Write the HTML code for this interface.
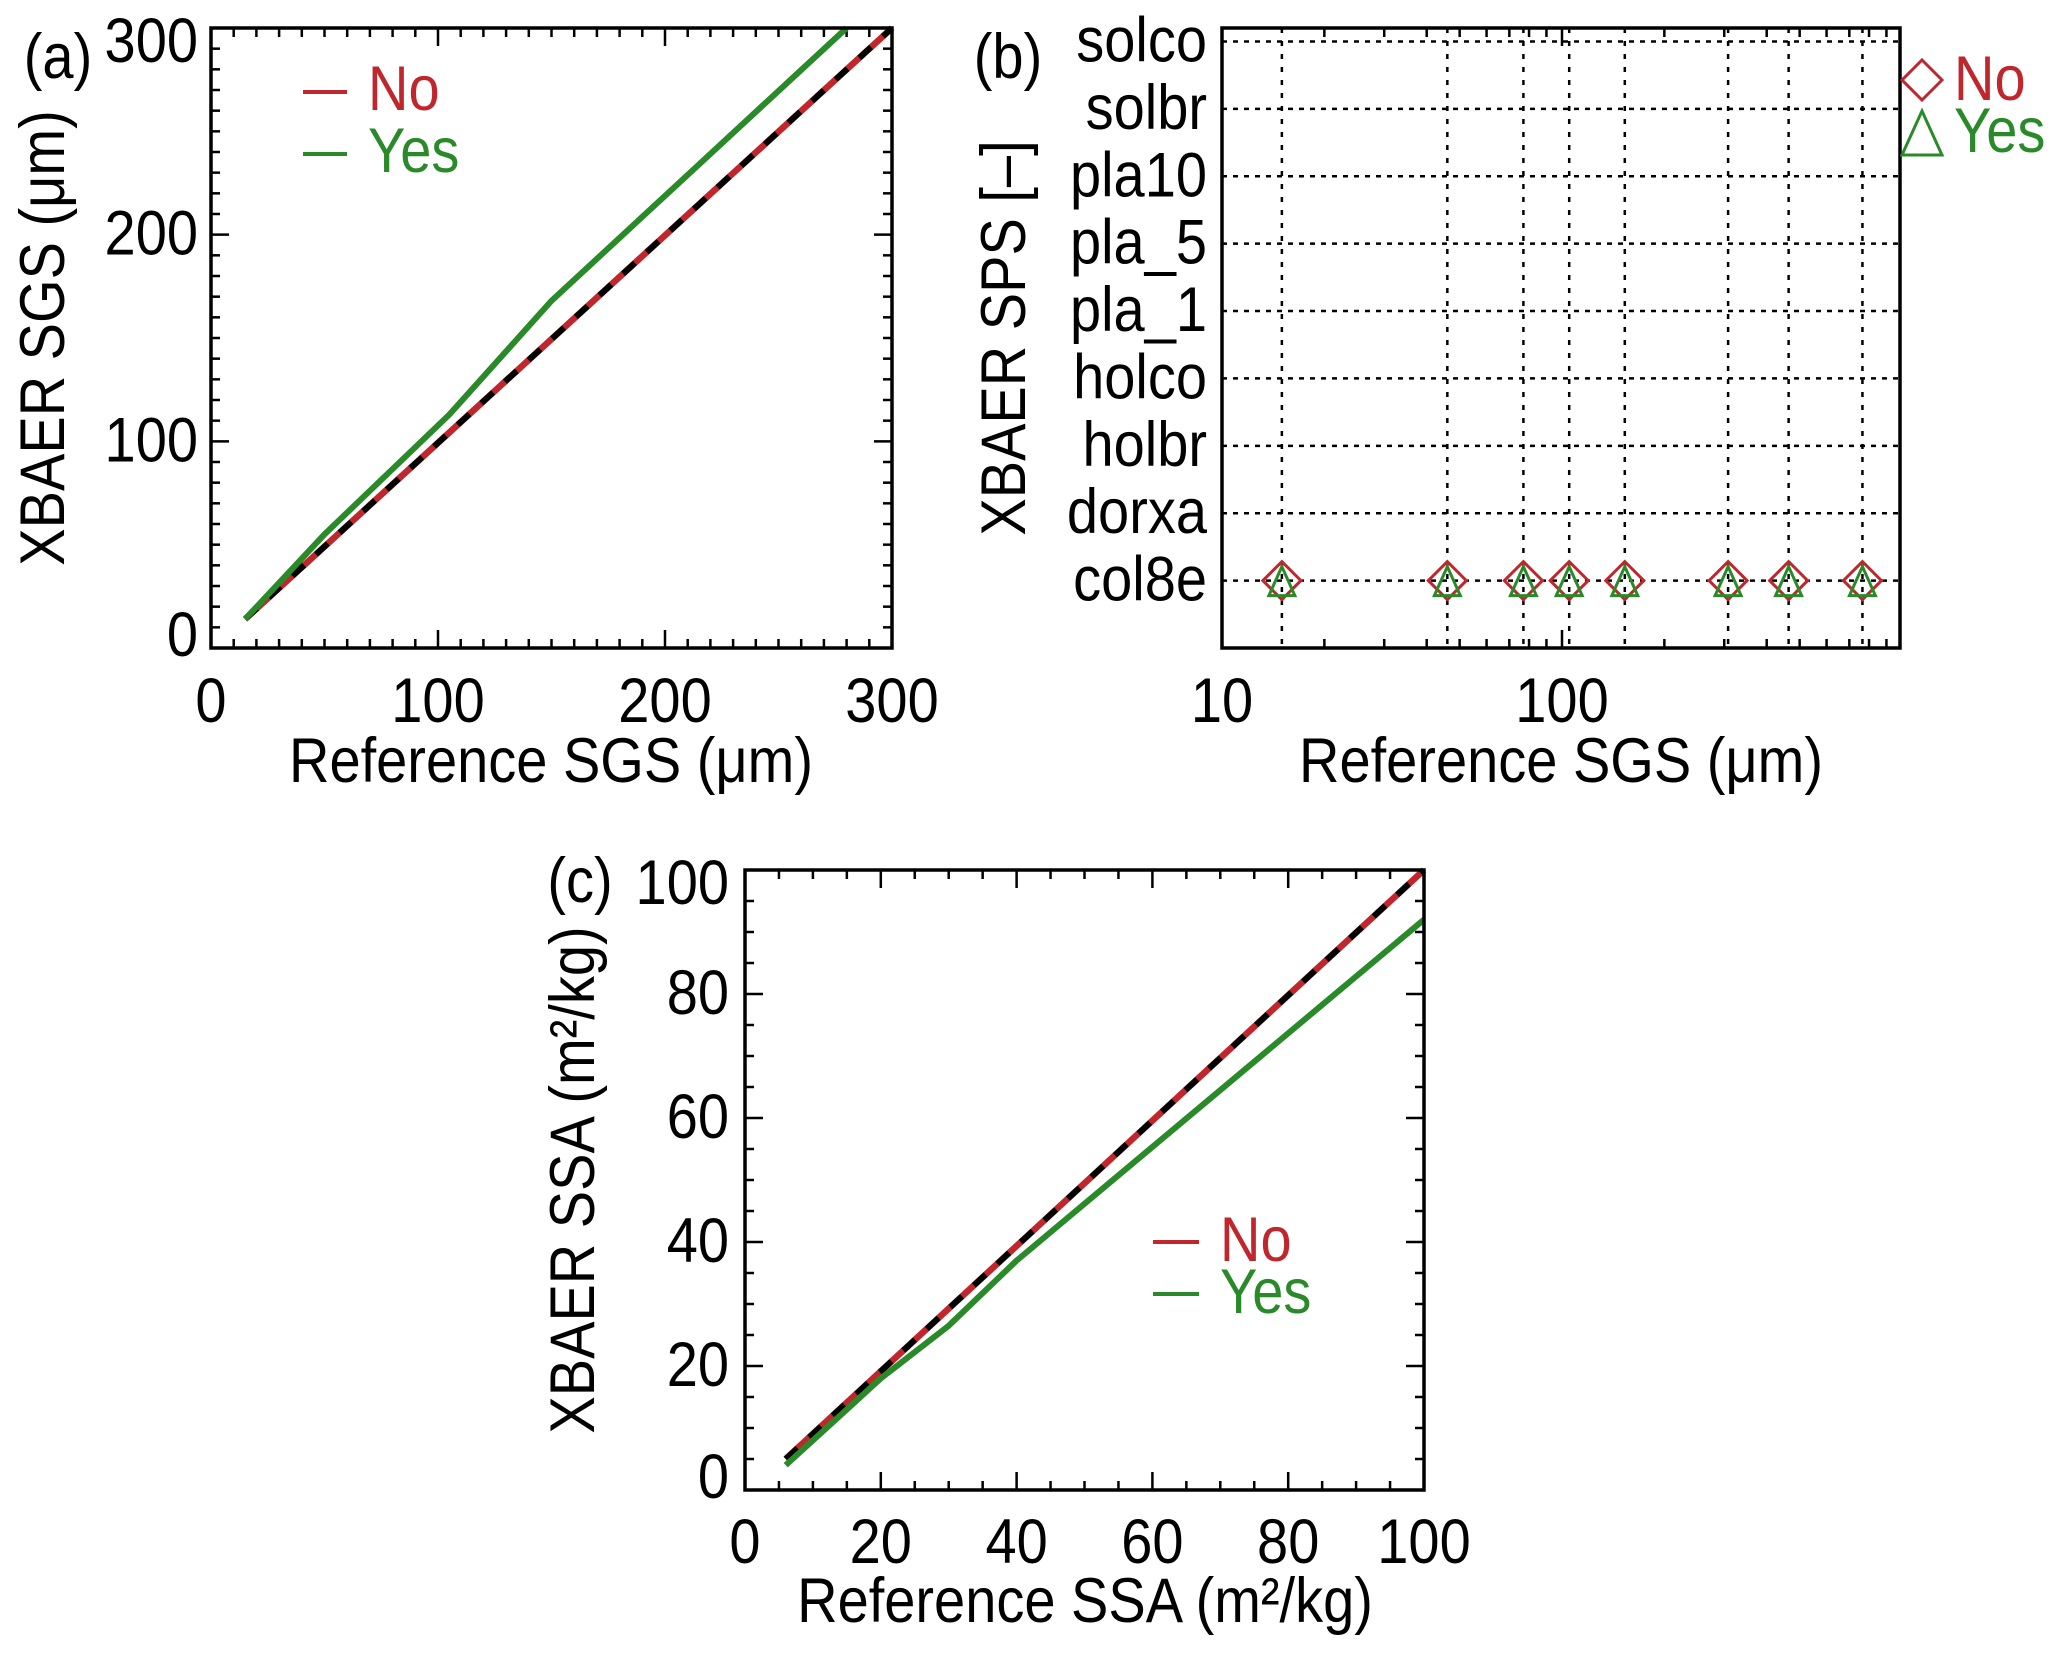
<!DOCTYPE html>
<html><head><meta charset="utf-8"><style>
html,body{margin:0;padding:0;background:#fff;}
svg{display:block;}
text{font-family:"Liberation Sans",Arial,sans-serif;}
</style></head><body>
<svg id="fig" width="2067" height="1653" viewBox="0 0 2067 1653" xmlns="http://www.w3.org/2000/svg"></svg>
<script>
// ---- Panel (a) data ----
const aNoX = [15, 300];
const aNoY = [14, 300];
const aYesX = [15, 50, 105, 150, 215, 280];
const aYesY = [14, 55, 113, 168, 234, 300];
const aXTicks = [0, 100, 200, 300];
const aYTicks = [0, 100, 200, 300];
// ---- Panel (b) data ----
const bCats = ["col8e","dorxa","holbr","holco","pla_1","pla_5","pla10","solbr","solco"];
const bX = [15, 46, 77, 105, 153, 308, 464, 765];
const bNoCat = [0,0,0,0,0,0,0,0];
const bYesCat = [0,0,0,0,0,0,0,0];
const bXTicks = [10, 100];
// ---- Panel (c) data ----
const cNoX = [6, 100];
const cNoY = [5, 100];
const cYesX = [6, 15, 20, 30, 40, 100];
const cYesY = [4, 13, 18, 26.5, 37, 92];
const cXTicks = [0, 20, 40, 60, 80, 100];
const cYTicks = [0, 20, 40, 60, 80, 100];

const NS = "http://www.w3.org/2000/svg";
const svg = document.getElementById('fig');
function el(tag, attrs, parent){
  const e = document.createElementNS(NS, tag);
  for (const k in attrs) e.setAttribute(k, attrs[k]);
  (parent||svg).appendChild(e);
  return e;
}
const RED = "#c0272d", GREEN = "#2a8a2a";
const FS = 56;
function txt(x, y, s, anchor, color, name, rot){
  const t = el('text', {x:0, y:0, 'font-size':FS, 'text-anchor':anchor||'middle', fill:color||'#000'});
  
  
  const r = rot ? ' rotate(-90)' : '';
  t.setAttribute('transform', 'translate(' + x + ',' + y + ')' + r + ' scale(1,1.13)');
  t.textContent = s;
  return t;
}
function line(x1,y1,x2,y2,stroke,w,dash,name){
  const l = el('line',{x1:x1,y1:y1,x2:x2,y2:y2,stroke:stroke,'stroke-width':w});
  if (dash) l.setAttribute('stroke-dasharray', dash);
  
  
  return l;
}
function poly(xs, ys, sx, sy, stroke, w, dash, name){
  const pts = xs.map((v,i)=>sx(v).toFixed(1)+','+sy(ys[i]).toFixed(1)).join(' ');
  const p = el('polyline',{points:pts, fill:'none', stroke:stroke, 'stroke-width':w, 'stroke-linejoin':'round'});
  if (dash) p.setAttribute('stroke-dasharray', dash);
  
  
  return p;
}
function box(L,T,R,B,name){
  const r = el('rect',{x:L,y:T,width:R-L,height:B-T,fill:'none',stroke:'#000','stroke-width':3.5});
  
  
}

// ===== Panel (a) =====
(function(){
  const L=211,R=892,T=28,B=648;
  const sx = v => L + (v-0)/300*(R-L);
  const sy = v => B - (v-0)/300*(B-T);
  for (let v=0; v<=300; v+=10){
    const big = v%100===0, len = big?18:9;
    line(sx(v),B,sx(v),B-len,'#000',2.5,null,'x-tick');
    line(sx(v),T,sx(v),T+len,'#000',2.5,null,'x-tick-top');
    line(L,sy(v),L+len,sy(v),'#000',2.5,null,'y-tick');
    line(R,sy(v),R-len,sy(v),'#000',2.5,null,'y-tick-right');
  }
  aXTicks.forEach(v=>txt(sx(v), 722, String(v), 'middle', '#000', 'x-tick-label'));
  aYTicks.forEach(v=>{
    let y = sy(v)+20; if (v===0) y -= 12; if (v===300) y += 14;
    txt(198, y, String(v), 'end', '#000', 'y-tick-label');
  });
  poly(aNoX, aNoY, sx, sy, RED, 6.5, null, 'line-no');
  poly(aNoX, aNoY, sx, sy, '#000', 6, '16 16', 'one-to-one-line');
  poly(aYesX, aYesY, sx, sy, GREEN, 6, null, 'line-yes');
  box(L,T,R,B,'plot-area-a');
  txt(551, 782, 'Reference SGS (μm)', 'middle', '#000', 'x-axis-title');
  txt(64, 338, 'XBAER SGS (μm)', 'middle', '#000', 'y-axis-title', true);
  txt(58, 78, '(a)', 'middle', '#000', 'panel-label-a');
  line(303,92,347,92,RED,4,null,'legend-no-line');
  txt(368, 110, 'No', 'start', RED, 'legend-no');
  line(303,154,347,154,GREEN,4,null,'legend-yes-line');
  txt(368, 172, 'Yes', 'start', GREEN, 'legend-yes');
})();

// ===== Panel (b) =====
(function(){
  const L=1222,R=1900,T=28,B=648;
  const dec = 340;
  const lmin=1, lmax=1+(R-L)/dec;
  const sx = v => L + (Math.log10(v)-lmin)/(lmax-lmin)*(R-L);
  const ymin=-1, ymax=8.2;
  const sy = v => B - (v-ymin)/(ymax-ymin)*(B-T);
  for (let d=10; d<=1000; d*=10){
    for (let k=1;k<10;k++){
      const v=d*k; if (v<10 || sx(v)>R) continue;
      const len = k===1?18:9;
      line(sx(v),B,sx(v),B-len,'#000',2.5,null,'x-tick');
      line(sx(v),T,sx(v),T+len,'#000',2.5,null,'x-tick-top');
    }
  }
  bCats.forEach((c,i)=>{
    line(L,sy(i),R,sy(i),'#000',2.5,'5 6','grid-line-y');
    txt(1207, sy(i)+20, c, 'end', '#000', 'y-tick-label');
  });
  bX.forEach(v=>line(sx(v),T,sx(v),B,'#000',2.5,'5 8','grid-line-x'));
  bXTicks.forEach(v=>txt(sx(v), 722, String(v), 'middle', '#000', 'x-tick-label'));
  bX.forEach((v,i)=>{
    const x=sx(v), y=sy(bNoCat[i]);
    const d = el('polygon',{points:(x-19)+','+y+' '+x+','+(y-19)+' '+(x+19)+','+y+' '+x+','+(y+19),fill:'none',stroke:RED,'stroke-width':3});
    
    
    const y2=sy(bYesCat[i]);
    const t = el('polygon',{points:(x-13)+','+(y2+15)+' '+x+','+(y2-14)+' '+(x+13)+','+(y2+15),fill:'none',stroke:GREEN,'stroke-width':3});
    
    
  });
  box(L,T,R,B,'plot-area-b');
  txt(1561, 782, 'Reference SGS (μm)', 'middle', '#000', 'x-axis-title');
  txt(1025, 338, 'XBAER SPS [–]', 'middle', '#000', 'y-axis-title', true);
  txt(1008, 78, '(b)', 'middle', '#000', 'panel-label-b');
  const dx=1922, dy=80;
  const dm = el('polygon',{points:(dx-20)+','+dy+' '+dx+','+(dy-20)+' '+(dx+20)+','+dy+' '+dx+','+(dy+20),fill:'none',stroke:RED,'stroke-width':3});
  
  
  txt(1954, 100, 'No', 'start', RED, 'legend-no');
  const ty=133;
  const tm = el('polygon',{points:(dx-20)+','+(ty+22)+' '+dx+','+(ty-22)+' '+(dx+20)+','+(ty+22),fill:'none',stroke:GREEN,'stroke-width':3});
  
  
  txt(1954, 152, 'Yes', 'start', GREEN, 'legend-yes');
})();

// ===== Panel (c) =====
(function(){
  const L=745,R=1424,T=870,B=1490;
  const sx = v => L + v/100*(R-L);
  const sy = v => B - v/100*(B-T);
  for (let v=0; v<=100; v+=5){
    const big = v%20===0, len = big?18:9;
    line(sx(v),B,sx(v),B-len,'#000',2.5,null,'x-tick');
    line(sx(v),T,sx(v),T+len,'#000',2.5,null,'x-tick-top');
    line(L,sy(v),L+len,sy(v),'#000',2.5,null,'y-tick');
    line(R,sy(v),R-len,sy(v),'#000',2.5,null,'y-tick-right');
  }
  cXTicks.forEach(v=>txt(sx(v), 1563, String(v), 'middle', '#000', 'x-tick-label'));
  cYTicks.forEach(v=>{
    let y = sy(v)+20; if (v===0) y -= 12; if (v===100) y += 14;
    txt(729, y, String(v), 'end', '#000', 'y-tick-label');
  });
  poly(cNoX, cNoY, sx, sy, RED, 6.5, null, 'line-no');
  poly(cNoX, cNoY, sx, sy, '#000', 6, '16 16', 'one-to-one-line');
  poly(cYesX, cYesY, sx, sy, GREEN, 6, null, 'line-yes');
  box(L,T,R,B,'plot-area-c');
  txt(1085, 1622, 'Reference SSA (m²/kg)', 'middle', '#000', 'x-axis-title');
  txt(594, 1180, 'XBAER SSA (m²/kg)', 'middle', '#000', 'y-axis-title', true);
  txt(580, 902, '(c)', 'middle', '#000', 'panel-label-c');
  line(1153,1242,1199,1242,RED,4,null,'legend-no-line');
  txt(1220, 1261, 'No', 'start', RED, 'legend-no');
  line(1153,1294,1199,1294,GREEN,4,null,'legend-yes-line');
  txt(1220, 1313, 'Yes', 'start', GREEN, 'legend-yes');
})();
</script>
</body></html>
